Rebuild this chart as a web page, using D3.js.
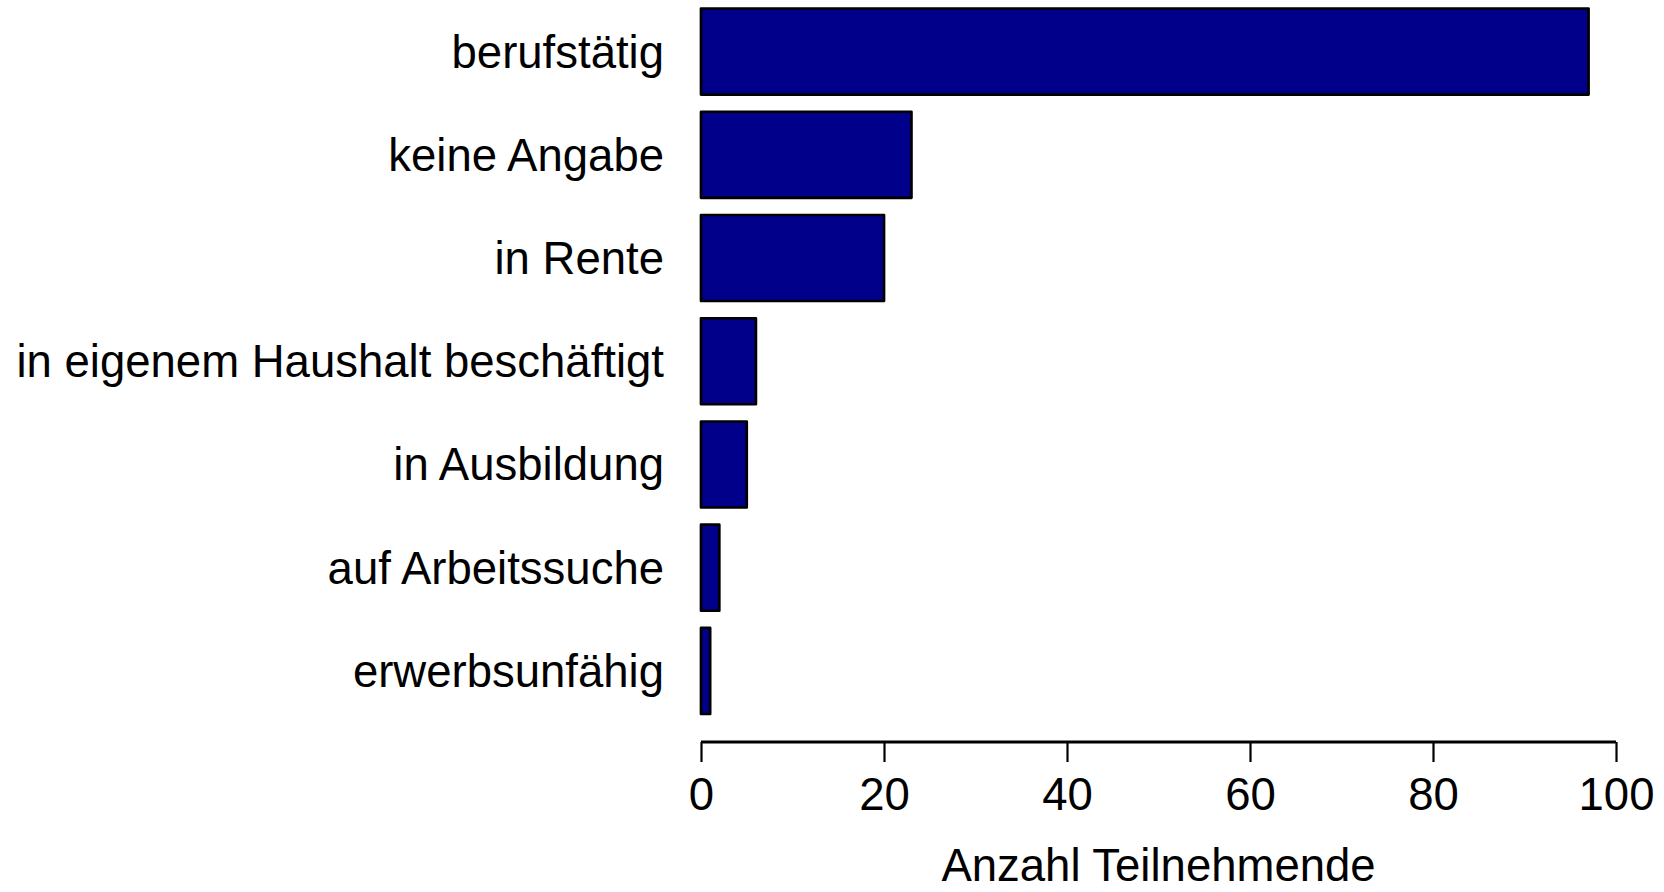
<!DOCTYPE html>
<html>
<head>
<meta charset="utf-8">
<script src="https://cdn.jsdelivr.net/npm/d3@7"></script>
<style>
  html, body { margin: 0; padding: 0; background: #fff; }
  svg { display: block; }
  text { font-family: "Liberation Sans", Arial, sans-serif; fill: #000; }
</style>
</head>
<body>
<svg id="chart" width="1664" height="892"></svg>
<script>
// Employment status of participants (horizontal bar chart)
const categories = [
  "berufstätig",
  "keine Angabe",
  "in Rente",
  "in eigenem Haushalt beschäftigt",
  "in Ausbildung",
  "auf Arbeitssuche",
  "erwerbsunfähig"
];
const counts = [97, 23, 20, 6, 5, 2, 1];
const xTicks = [0, 20, 40, 60, 80, 100];
const xTitle = "Anzahl Teilnehmende";

const svg = d3.select("#chart");
const fontSize = 45.5;

const x = d3.scaleLinear().domain([0, 100]).range([701, 1616]);
const y = d3.scaleBand()
  .domain(categories)
  .range([8.5, 714])
  .paddingInner(1 / 6)
  .paddingOuter(0);

// bars
svg.append("g")
  .selectAll("rect")
  .data(categories.map((c, i) => ({ c, v: counts[i] })))
  .join("rect")
  .attr("x", x(0))
  .attr("y", d => y(d.c))
  .attr("width", d => x(d.v) - x(0))
  .attr("height", y.bandwidth())
  .attr("fill", "#00008B")
  .attr("stroke", "#000")
  .attr("stroke-width", 2.7)
  .attr("stroke-linejoin", "round");

// category labels
svg.append("g")
  .selectAll("text")
  .data(categories)
  .join("text")
  .attr("x", x(0) - 37)
  .attr("y", d => y(d) + y.bandwidth() / 2 + 16)
  .attr("text-anchor", "end")
  .style("font-size", fontSize + "px")
  .text(d => d);

// x axis
const axisY = 742;
const xAxis = d3.axisBottom(x).tickValues(xTicks).tickSize(20).tickPadding(0).tickFormat(d3.format("d"));
const gx = svg.append("g").attr("transform", `translate(0,${axisY})`).call(xAxis);
gx.select(".domain").attr("d", `M${x(0)},0H${x(100)}`).attr("stroke", "#000").attr("stroke-width", 3);
gx.selectAll(".tick line").attr("stroke", "#000").attr("stroke-width", 2.2);
gx.selectAll(".tick text")
  .attr("y", 68)
  .attr("dy", null)
  .style("font-size", fontSize + "px")
  .style("font-family", "'Liberation Sans', Arial, sans-serif")
  .attr("fill", "#000");

// axis title
svg.append("text")
  .attr("x", (x(0) + x(100)) / 2)
  .attr("y", 881)
  .attr("text-anchor", "middle")
  .style("font-size", fontSize + "px")
  .text(xTitle);
</script>
</body>
</html>
